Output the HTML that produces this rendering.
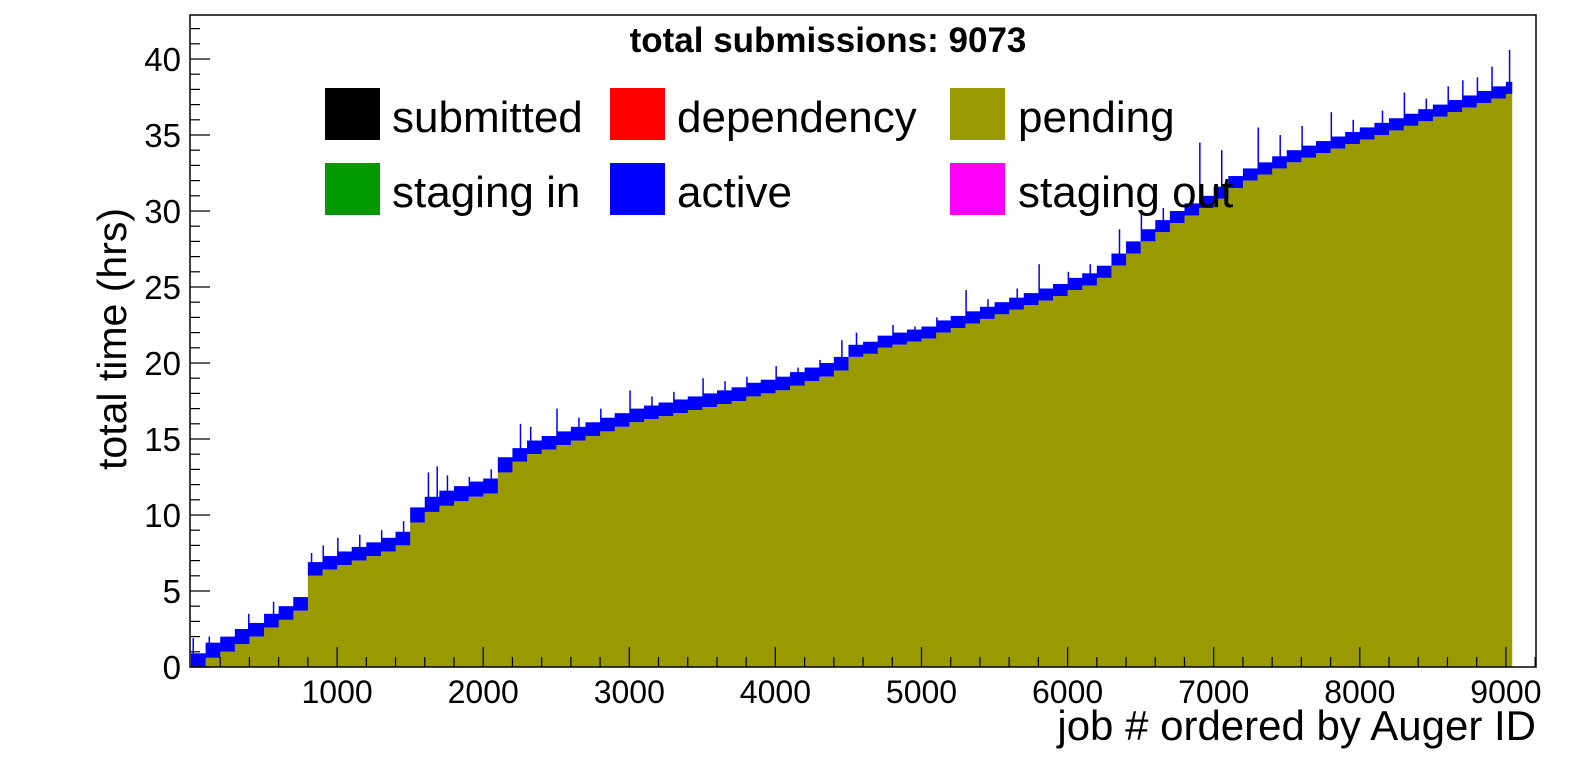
<!DOCTYPE html>
<html><head><meta charset="utf-8"><style>
html,body{margin:0;padding:0;background:#fff;overflow:hidden;width:1596px;height:772px;}
svg{display:block;font-family:"Liberation Sans",sans-serif;}
</style></head><body>
<svg id="chart" width="1596" height="772" viewBox="0 0 1596 772" xmlns="http://www.w3.org/2000/svg">
<rect width="1596" height="772" fill="#fff"/>
<g id="bars"></g>
<g id="axes"></g>
<rect x="190" y="15" width="1346" height="652" fill="none" stroke="#000" stroke-width="1.5"/>
<text x="828" y="52" font-size="35" font-weight="bold" text-anchor="middle">total submissions: 9073</text>
<g font-size="44">
 <g><rect x="325" y="88" width="55" height="52" fill="#000"/><text x="392" y="132">submitted</text></g>
 <g><rect x="610" y="88" width="55" height="52" fill="#ff0000"/><text x="677" y="132">dependency</text></g>
 <g><rect x="950" y="88" width="55" height="52" fill="#999900"/><text x="1018" y="132">pending</text></g>
 <g><rect x="325" y="163" width="55" height="52" fill="#009900"/><text x="392" y="207">staging in</text></g>
 <g><rect x="610" y="163" width="55" height="52" fill="#0000ff"/><text x="677" y="207">active</text></g>
 <g><rect x="950" y="163" width="55" height="52" fill="#ff00ff"/><text x="1018" y="207">staging out</text></g>
</g>
<text transform="translate(126,339) rotate(-90)" font-size="41" text-anchor="middle">total time (hrs)</text>
<text x="1536" y="740" font-size="42" text-anchor="end">job # ordered by Auger ID</text>
</svg>
<script>
// bins of 100 jobs each
const binStarts = [0,100,200,300,400,500,600,700,800,900,1000,1100,1200,1300,1400,1500,1600,1700,1800,1900,2000,2100,2200,2300,2400,2500,2600,2700,2800,2900,3000,3100,3200,3300,3400,3500,3600,3700,3800,3900,4000,4100,4200,4300,4400,4500,4600,4700,4800,4900,5000,5100,5200,5300,5400,5500,5600,5700,5800,5900,6000,6100,6200,6300,6400,6500,6600,6700,6800,6900,7000,7100,7200,7300,7400,7500,7600,7700,7800,7900,8000,8100,8200,8300,8400,8500,8600,8700,8800,8900,9000];
const pendingHrs = [0,0.6,1.0,1.5,2.0,2.6,3.1,3.7,6.0,6.4,6.7,7.0,7.3,7.6,8.0,9.5,10.2,10.6,10.9,11.2,11.4,12.8,13.5,14.0,14.3,14.6,14.9,15.2,15.5,15.8,16.1,16.3,16.5,16.7,16.9,17.1,17.3,17.5,17.8,18.0,18.2,18.5,18.8,19.1,19.5,20.4,20.6,21.0,21.2,21.4,21.6,22.0,22.3,22.6,22.9,23.2,23.5,23.8,24.1,24.4,24.8,25.1,25.6,26.4,27.2,28.0,28.6,29.2,29.7,30.2,30.8,31.5,32.0,32.4,32.8,33.2,33.5,33.8,34.1,34.4,34.7,35.0,35.3,35.6,35.9,36.2,36.5,36.8,37.1,37.4,37.7];
const activeHrs = [0.9,1.0,1.0,1.0,0.9,0.9,0.9,0.9,0.9,0.9,0.9,0.9,0.9,0.9,0.9,1.0,1.0,1.0,1.0,1.0,1.0,1.0,0.9,0.9,0.9,0.9,0.9,0.9,0.9,0.9,0.9,0.9,0.9,0.9,0.9,0.9,0.9,0.9,0.9,0.9,0.9,0.9,0.9,0.9,0.9,0.8,0.8,0.8,0.8,0.8,0.8,0.8,0.8,0.8,0.8,0.8,0.8,0.8,0.8,0.8,0.8,0.8,0.8,0.8,0.8,0.8,0.8,0.8,0.8,0.8,0.8,0.8,0.8,0.8,0.8,0.8,0.8,0.8,0.8,0.8,0.8,0.8,0.8,0.8,0.8,0.8,0.8,0.8,0.8,0.8,0.8];
const binWidths = [100,100,100,100,100,100,100,100,100,100,100,100,100,100,100,100,100,100,100,100,100,100,100,100,100,100,100,100,100,100,100,100,100,100,100,100,100,100,100,100,100,100,100,100,100,100,100,100,100,100,100,100,100,100,100,100,100,100,100,100,100,100,100,100,100,100,100,100,100,100,100,100,100,100,100,100,100,100,100,100,100,100,100,100,100,100,100,100,100,100,40];
// noise spikes above the active band (job #, hrs)
const spikeJobs = [10,120,390,560,820,900,1000,1150,1300,1450,1620,1680,1750,1900,2050,2250,2320,2500,2650,2800,3000,3150,3300,3500,3650,3800,4000,4150,4300,4450,4550,4800,4950,5100,5300,5450,5650,5800,6000,6150,6350,6500,6650,6900,7050,7300,7450,7600,7800,7950,8150,8300,8450,8600,8700,8800,8900,9020];
const spikeHrs = [1.9,2.0,3.5,4.3,7.5,8.0,8.5,8.7,9.0,9.6,12.8,13.2,12.6,12.5,13.0,16.0,15.8,17.0,16.4,17.0,18.2,17.8,18.1,19.0,18.8,19.1,19.8,19.7,20.2,21.5,22.0,22.5,22.4,23.0,24.8,24.2,24.9,26.5,26.0,26.5,28.8,30.0,30.2,34.5,34.0,35.5,35.0,35.6,36.5,36.0,36.6,37.8,37.4,38.2,38.6,38.8,39.5,40.6];
const yTicks = [0,5,10,15,20,25,30,35,40];
const xTicks = [1000,2000,3000,4000,5000,6000,7000,8000,9000];

const X0=191, XS=0.1461, Y0=667, YS=15.2;
const xPos = j => X0 + j*XS;
const yPos = h => Y0 - h*YS;
const NS="http://www.w3.org/2000/svg";
const bars=document.getElementById('bars'), axes=document.getElementById('axes');
function mk(tag, attrs, parent){const e=document.createElementNS(NS,tag);for(const k in attrs)e.setAttribute(k,attrs[k]);parent.appendChild(e);return e;}

function topAt(j){
  for(let i=0;i<binStarts.length;i++){
    if(j>=binStarts[i] && j<binStarts[i]+binWidths[i]) return pendingHrs[i]+activeHrs[i];
  }
  return 0;
}
for(let i=0;i<binStarts.length;i++){
  const x=xPos(binStarts[i]), w=binWidths[i]*XS+0.5;
  const p=pendingHrs[i], a=activeHrs[i];
  const ra=mk('rect',{x:x,y:yPos(p+a),width:w,height:a*YS,fill:'#0000ff'},bars);
  
  
  if(p>0){
    const rp=mk('rect',{x:x,y:yPos(p),width:w,height:p*YS,fill:'#999900'},bars);
    
    
  }
}
for(let i=0;i<spikeJobs.length;i++){
  const base=topAt(spikeJobs[i]);
  const h=Math.max(0,spikeHrs[i]-base);
  const s=mk('rect',{x:xPos(spikeJobs[i]),y:yPos(spikeHrs[i]),width:1.5,height:h*YS+1,fill:'#0000ff'},bars);
  
  
}
// y ticks
for(let h=0;h<=42;h++){
  const major=h%5===0;
  mk('line',{x1:190,x2:190+(major?20:10),y1:yPos(h),y2:yPos(h),stroke:'#000','stroke-width':1.2},axes);
}
yTicks.forEach(v=>{
  const t=mk('text',{x:181,y:yPos(v)+12,'font-size':33,'text-anchor':'end'},axes);
  t.textContent=v;
  
  
});
for(let j=200;j<=9200;j+=200){
  const major=j%1000===0;
  mk('line',{x1:xPos(j),x2:xPos(j),y1:667,y2:667-(major?20:10),stroke:'#000','stroke-width':1.2},axes);
}
xTicks.forEach(v=>{
  const t=mk('text',{x:xPos(v),y:703,'font-size':32,'text-anchor':'middle'},axes);
  t.textContent=v;
  
  
});
</script>
</body></html>
